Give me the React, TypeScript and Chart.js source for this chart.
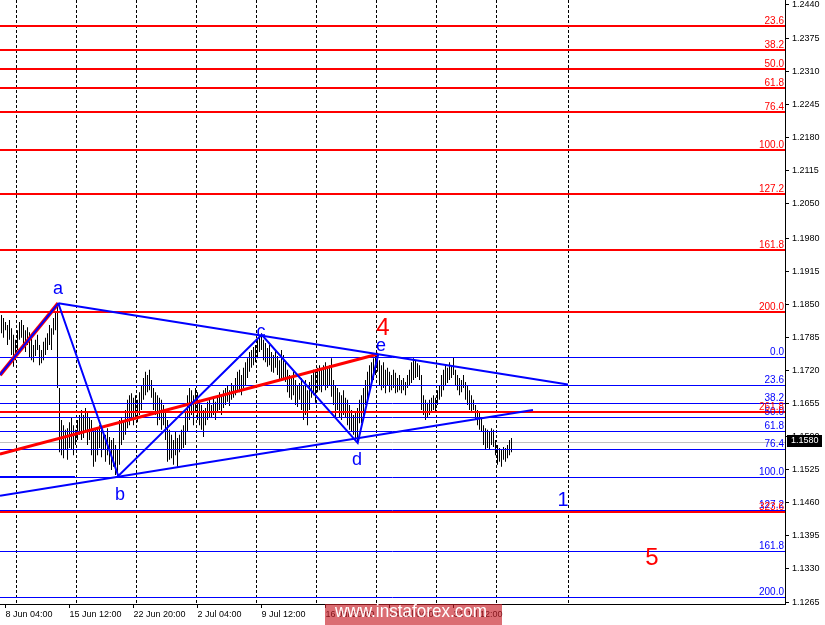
import React, { useEffect, useRef } from 'react';
import { Chart, registerables } from 'chart.js';

Chart.register(...registerables);

// ---- Data (EURUSD H4 bars) ----
const FIRST_BAR_INDEX = -2; // bar index 0 = 8 Jun 04:00

const barHighs = [
  1.1830, 1.1824, 1.1816, 1.1810, 1.1820,
  1.1804, 1.1791, 1.1781, 1.1800, 1.1816,
  1.1820, 1.1810, 1.1800, 1.1806, 1.1796,
  1.1785, 1.1771, 1.1781, 1.1791, 1.1771,
  1.1761, 1.1777, 1.1785, 1.1794, 1.1810,
  1.1804, 1.1824, 1.1836, 1.1853, 1.1686,
  1.1623, 1.1613, 1.1604, 1.1607, 1.1619,
  1.1627, 1.1613, 1.1604, 1.1623, 1.1633,
  1.1643, 1.1633, 1.1647, 1.1639, 1.1627,
  1.1623, 1.1607, 1.1604, 1.1607, 1.1613,
  1.1604, 1.1600, 1.1594, 1.1607, 1.1590,
  1.1584, 1.1588, 1.1574, 1.1564, 1.1623,
  1.1627, 1.1623, 1.1643, 1.1663, 1.1672,
  1.1676, 1.1667, 1.1672, 1.1663, 1.1678,
  1.1692, 1.1706, 1.1718, 1.1712, 1.1722,
  1.1702, 1.1686, 1.1678, 1.1672, 1.1667,
  1.1663, 1.1653, 1.1643, 1.1623, 1.1604,
  1.1594, 1.1584, 1.1600, 1.1588, 1.1594,
  1.1604, 1.1613, 1.1643, 1.1672, 1.1686,
  1.1682, 1.1672, 1.1686, 1.1678, 1.1663,
  1.1653, 1.1643, 1.1647, 1.1659, 1.1663,
  1.1653, 1.1667, 1.1659, 1.1672, 1.1678,
  1.1672, 1.1682, 1.1686, 1.1692, 1.1682,
  1.1696, 1.1692, 1.1706, 1.1718, 1.1722,
  1.1712, 1.1726, 1.1737, 1.1745, 1.1757,
  1.1761, 1.1767, 1.1771, 1.1781, 1.1785,
  1.1794, 1.1781, 1.1775, 1.1765, 1.1771,
  1.1757, 1.1751, 1.1761, 1.1749, 1.1741,
  1.1761, 1.1751, 1.1737, 1.1722, 1.1712,
  1.1706, 1.1718, 1.1702, 1.1692, 1.1696,
  1.1706, 1.1692, 1.1702, 1.1682, 1.1698,
  1.1712, 1.1722, 1.1718, 1.1726, 1.1731,
  1.1722, 1.1731, 1.1737, 1.1726, 1.1731,
  1.1745, 1.1702, 1.1692, 1.1686, 1.1678,
  1.1672, 1.1682, 1.1667, 1.1663, 1.1653,
  1.1643, 1.1633, 1.1639, 1.1647, 1.1663,
  1.1672, 1.1686, 1.1702, 1.1718, 1.1731,
  1.1737, 1.1745, 1.1749, 1.1753, 1.1741,
  1.1731, 1.1737, 1.1722, 1.1726, 1.1718,
  1.1712, 1.1722, 1.1716, 1.1706, 1.1712,
  1.1702, 1.1706, 1.1698, 1.1712, 1.1722,
  1.1737, 1.1745, 1.1741, 1.1735, 1.1731,
  1.1712, 1.1672, 1.1663, 1.1657, 1.1663,
  1.1667, 1.1672, 1.1667, 1.1682, 1.1692,
  1.1712, 1.1722, 1.1731, 1.1726, 1.1737,
  1.1731, 1.1747, 1.1722, 1.1712, 1.1706,
  1.1702, 1.1712, 1.1698, 1.1692, 1.1682,
  1.1672, 1.1663, 1.1653, 1.1643, 1.1639,
  1.1627, 1.1613, 1.1607, 1.1604, 1.1600,
  1.1607, 1.1604, 1.1584, 1.1574, 1.1568,
  1.1564, 1.1570, 1.1568, 1.1574, 1.1584,
  1.1588,
];

const barLows = [
  1.1794, 1.1785, 1.1800, 1.1771, 1.1781,
  1.1751, 1.1728, 1.1741, 1.1761, 1.1781,
  1.1785, 1.1767, 1.1757, 1.1771, 1.1747,
  1.1741, 1.1737, 1.1749, 1.1761, 1.1731,
  1.1735, 1.1741, 1.1751, 1.1761, 1.1771,
  1.1761, 1.1791, 1.1800, 1.1686, 1.1560,
  1.1554, 1.1548, 1.1564, 1.1545, 1.1568,
  1.1564, 1.1554, 1.1574, 1.1584, 1.1594,
  1.1584, 1.1588, 1.1600, 1.1574, 1.1584,
  1.1554, 1.1531, 1.1541, 1.1554, 1.1568,
  1.1550, 1.1564, 1.1541, 1.1554, 1.1535,
  1.1525, 1.1531, 1.1515, 1.1511, 1.1535,
  1.1574, 1.1584, 1.1594, 1.1607, 1.1613,
  1.1623, 1.1613, 1.1627, 1.1619, 1.1633,
  1.1643, 1.1663, 1.1672, 1.1678, 1.1682,
  1.1667, 1.1643, 1.1633, 1.1613, 1.1623,
  1.1604, 1.1613, 1.1584, 1.1541, 1.1545,
  1.1548, 1.1535, 1.1554, 1.1531, 1.1560,
  1.1564, 1.1568, 1.1574, 1.1600, 1.1623,
  1.1633, 1.1613, 1.1639, 1.1623, 1.1613,
  1.1604, 1.1590, 1.1613, 1.1623, 1.1627,
  1.1627, 1.1633, 1.1623, 1.1639, 1.1643,
  1.1633, 1.1647, 1.1653, 1.1659, 1.1651,
  1.1663, 1.1667, 1.1672, 1.1682, 1.1678,
  1.1672, 1.1686, 1.1692, 1.1706, 1.1718,
  1.1726, 1.1731, 1.1737, 1.1745, 1.1757,
  1.1761, 1.1741, 1.1737, 1.1728, 1.1731,
  1.1718, 1.1716, 1.1726, 1.1712, 1.1702,
  1.1706, 1.1702, 1.1698, 1.1678, 1.1667,
  1.1663, 1.1672, 1.1653, 1.1649, 1.1663,
  1.1643, 1.1623, 1.1633, 1.1613, 1.1643,
  1.1667, 1.1672, 1.1657, 1.1678, 1.1682,
  1.1678, 1.1692, 1.1682, 1.1686, 1.1690,
  1.1669, 1.1653, 1.1629, 1.1643, 1.1627,
  1.1623, 1.1633, 1.1627, 1.1613, 1.1604,
  1.1600, 1.1594, 1.1584, 1.1578, 1.1617,
  1.1617, 1.1633, 1.1653, 1.1663, 1.1682,
  1.1692, 1.1702, 1.1712, 1.1718, 1.1692,
  1.1682, 1.1686, 1.1676, 1.1692, 1.1678,
  1.1682, 1.1686, 1.1676, 1.1678, 1.1682,
  1.1676, 1.1682, 1.1672, 1.1686, 1.1692,
  1.1696, 1.1702, 1.1706, 1.1708, 1.1702,
  1.1643, 1.1633, 1.1623, 1.1627, 1.1633,
  1.1637, 1.1643, 1.1639, 1.1653, 1.1663,
  1.1669, 1.1682, 1.1692, 1.1696, 1.1702,
  1.1706, 1.1712, 1.1692, 1.1682, 1.1672,
  1.1678, 1.1686, 1.1663, 1.1653, 1.1643,
  1.1637, 1.1643, 1.1623, 1.1613, 1.1604,
  1.1600, 1.1574, 1.1564, 1.1568, 1.1564,
  1.1574, 1.1570, 1.1554, 1.1535, 1.1541,
  1.1531, 1.1545, 1.1541, 1.1548, 1.1554,
  1.1560,
];

const timeTickIndices = [0, 32, 64, 96, 128, 160, 192, 224];
const timeTickLabels = [
  '8 Jun 04:00', '15 Jun 12:00', '22 Jun 20:00', '2 Jul 04:00',
  '9 Jul 12:00', '16 Jul 20:00', '24 Jul 04:00', '31 Jul 12:00',
];
const priceTicks = [
  1.2440, 1.2375, 1.2310, 1.2245, 1.2180, 1.2115, 1.2050, 1.1980, 1.1915, 1.1850,
  1.1785, 1.1720, 1.1655, 1.1590, 1.1525, 1.1460, 1.1395, 1.1330, 1.1265,
];
const weekSeparatorIndices = [5, 35, 65, 95, 125, 155, 185, 215, 245, 281];
const currentPrice = 1.1580;

// Fibonacci objects: [0% price, 100% price]
const redFibRange = [1.2474, 1.2155];
const redFibLevels = [23.6, 38.2, 50.0, 61.8, 76.4, 100.0, 127.2, 161.8, 200.0, 261.8, 323.6];
const blueFibRange = [1.1747, 1.1511];
const blueFibLevels = [0.0, 23.6, 38.2, 50.0, 61.8, 76.4, 100.0, 127.2, 161.8, 200.0];

// Wave path a-b-c-d-e
const wavePathIndex = [26.4, 56.4, 128.1, 176.1, 186.4];
const wavePathPrice = [1.1853, 1.1513, 1.1791, 1.1578, 1.1753];

// Trend lines: [startIndex, startPrice, endIndex, endPrice]
const upperTrendLine = [26.4, 1.1853, 281.25, 1.1693];
const lowerTrendLine = [-2.75, 1.1474, 263.75, 1.1643];
const redTrendLine = [-2.75, 1.1556, 186.4, 1.1753];
const leftWaveLine = [-2.75, 1.1712, 26.4, 1.1853];
const leftLevelLine = [-2.75, 1.1511, 34.75, 1.1511];

// Wave labels
const waveLabelText = ['a', 'b', 'c', 'd', 'e', '4', '1', '5'];
const waveLabelIndex = [26.25, 57.25, 127.75, 175.75, 187.75, 188.75, 278.75, 323.25];
const waveLabelPrice = [1.1871, 1.1466, 1.1787, 1.1535, 1.1759, 1.1791, 1.1454, 1.1338];

// ---- View ----
const X_MIN = -2.75;
const X_MAX = 389.75;
const Y_MIN = 1.126111;
const Y_MAX = 1.244984;

const FONT = '"Liberation Sans", Arial, sans-serif';
const BLUE = '#0000ff';
const RED = '#ff0000';

const overlayPlugin = {
  id: 'mt4Overlay',
  beforeDatasetsDraw(chart: any) {
    const { ctx, chartArea: a, scales } = chart;
    const xs = scales.x;
    const ys = scales.y;
    ctx.save();
    ctx.beginPath();
    ctx.rect(a.left, a.top, a.right - a.left, a.bottom - a.top);
    ctx.clip();
    ctx.strokeStyle = '#000';
    ctx.lineWidth = 1;
    ctx.setLineDash([3, 2]);
    for (const i of weekSeparatorIndices) {
      const px = Math.round(xs.getPixelForValue(i)) + 0.5;
      ctx.beginPath();
      ctx.moveTo(px, a.top);
      ctx.lineTo(px, a.bottom);
      ctx.stroke();
    }
    ctx.setLineDash([]);
    const gy = Math.round(ys.getPixelForValue(currentPrice)) + 0.5;
    ctx.strokeStyle = '#c0c0c0';
    ctx.beginPath();
    ctx.moveTo(a.left, gy);
    ctx.lineTo(a.right, gy);
    ctx.stroke();
    ctx.restore();
  },
  afterDatasetsDraw(chart: any) {
    const { ctx, chartArea: a, scales } = chart;
    const xs = scales.x;
    const ys = scales.y;
    const X = (v: number) => xs.getPixelForValue(v);
    const Y = (v: number) => ys.getPixelForValue(v);
    ctx.save();
    ctx.beginPath();
    ctx.rect(a.left, a.top, a.right - a.left, a.bottom - a.top);
    ctx.clip();

    const [b0, b1] = blueFibRange;
    for (const lv of blueFibLevels) {
      const p = b0 - (lv / 100) * (b0 - b1);
      const y = Math.round(Y(p)) + 0.5;
      ctx.strokeStyle = BLUE;
      ctx.lineWidth = 1;
      ctx.beginPath();
      ctx.moveTo(a.left, y);
      ctx.lineTo(a.right, y);
      ctx.stroke();
    }
    const [r0, r1] = redFibRange;
    for (const lv of redFibLevels) {
      const p = r0 - (lv / 100) * (r0 - r1);
      const y = Math.round(Y(p));
      ctx.strokeStyle = RED;
      ctx.lineWidth = 2;
      ctx.beginPath();
      ctx.moveTo(a.left, y);
      ctx.lineTo(a.right, y);
      ctx.stroke();
    }

    ctx.font = `10px ${FONT}`;
    ctx.textAlign = 'right';
    ctx.textBaseline = 'alphabetic';
    for (const lv of blueFibLevels) {
      const p = b0 - (lv / 100) * (b0 - b1);
      const y = Math.round(Y(p));
      ctx.fillStyle = BLUE;
      ctx.fillText(lv.toFixed(1), a.right - 1, y - 2);
    }
    for (const lv of redFibLevels) {
      const p = r0 - (lv / 100) * (r0 - r1);
      const y = Math.round(Y(p));
      ctx.fillStyle = RED;
      ctx.fillText(lv.toFixed(1), a.right - 1, y - 2);
    }

    const seg = (l: number[], color: string, w: number) => {
      ctx.strokeStyle = color;
      ctx.lineWidth = w;
      ctx.beginPath();
      ctx.moveTo(X(l[0]), Y(l[1]));
      ctx.lineTo(X(l[2]), Y(l[3]));
      ctx.stroke();
    };
    ctx.lineCap = 'butt';
    seg(redTrendLine, RED, 3);
    seg(leftWaveLine, RED, 4);
    seg(leftWaveLine, BLUE, 2);
    seg(leftLevelLine, BLUE, 2);
    seg(upperTrendLine, BLUE, 2);
    seg(lowerTrendLine, BLUE, 2);

    ctx.strokeStyle = BLUE;
    ctx.lineWidth = 2;
    ctx.lineJoin = 'miter';
    ctx.beginPath();
    wavePathIndex.forEach((iv, k) => {
      const px = X(iv);
      const py = Y(wavePathPrice[k]);
      if (k === 0) ctx.moveTo(px, py);
      else ctx.lineTo(px, py);
    });
    ctx.stroke();

    ctx.textAlign = 'center';
    waveLabelText.forEach((t, k) => {
      const isDigit = /[0-9]/.test(t);
      const size = t === '1' ? 20 : isDigit ? 24 : 18;
      ctx.font = `${size}px ${FONT}`;
      ctx.fillStyle = t === '4' || t === '5' ? RED : BLUE;
      ctx.fillText(t, X(waveLabelIndex[k]), Y(waveLabelPrice[k]));
    });
    ctx.restore();
  },
  afterDraw(chart: any) {
    const { ctx, chartArea: a, scales } = chart;
    const ys = scales.y;
    ctx.save();
    const py = Math.round(ys.getPixelForValue(currentPrice));
    ctx.fillStyle = '#000';
    ctx.fillRect(a.right + 2, py - 7, 35, 12);
    ctx.fillStyle = '#fff';
    ctx.font = `9px ${FONT}`;
    ctx.textAlign = 'left';
    ctx.textBaseline = 'middle';
    ctx.fillText(currentPrice.toFixed(4), a.right + 6, py - 1);

    ctx.fillStyle = 'rgba(200, 30, 40, 0.65)';
    ctx.fillRect(325, 604, 177, 21);
    ctx.fillStyle = '#ffffff';
    ctx.font = `19px ${FONT}`;
    ctx.textAlign = 'left';
    ctx.textBaseline = 'alphabetic';
    ctx.translate(335, 617);
    ctx.scale(0.9, 1);
    ctx.fillText('www.instaforex.com', 0, 0);
    ctx.restore();
  },
};

export default function App() {
  const ref = useRef<HTMLCanvasElement>(null);

  useEffect(() => {
    const canvas = ref.current;
    if (!canvas) return;
    const bars = barHighs.map((h, k) => ({ x: FIRST_BAR_INDEX + k, y: [barLows[k], h] }));
    const chart = new Chart(canvas, {
      type: 'bar',
      data: {
        datasets: [
          {
            label: 'EURUSD H4',
            data: bars as any,
            backgroundColor: '#000',
            borderWidth: 0,
            barThickness: 1,
            inflateAmount: 0,
          } as any,
        ],
      },
      options: {
        responsive: false,
        animation: false,
        devicePixelRatio: 1,
        events: [],
        layout: { padding: 0 },
        plugins: { legend: { display: false }, tooltip: { enabled: false } },
        scales: {
          x: {
            type: 'linear',
            position: 'bottom',
            min: X_MIN,
            max: X_MAX,
            offset: false,
            afterBuildTicks: (s: any) => {
              s.ticks = timeTickIndices.map((v) => ({ value: v }));
            },
            afterFit: (s: any) => {
              s.height = 21;
              s.paddingLeft = 0;
              s.paddingRight = 0;
            },
            ticks: {
              autoSkip: false,
              maxRotation: 0,
              minRotation: 0,
              align: 'start',
              padding: 1,
              color: '#000',
              font: { family: FONT, size: 9 },
              callback: (v: any) => {
                const k = timeTickIndices.indexOf(Number(v));
                return k >= 0 ? timeTickLabels[k] : '';
              },
            },
            grid: { drawOnChartArea: false, drawTicks: true, tickLength: 4, color: '#000', offset: false },
            border: { display: true, color: '#000', width: 1 },
          } as any,
          y: {
            type: 'linear',
            position: 'right',
            min: Y_MIN,
            max: Y_MAX,
            afterBuildTicks: (s: any) => {
              s.ticks = priceTicks.map((v) => ({ value: v }));
            },
            afterFit: (s: any) => {
              s.width = 40;
              s.paddingTop = 0;
              s.paddingBottom = 0;
            },
            ticks: {
              autoSkip: false,
              padding: 3,
              color: '#000',
              font: { family: FONT, size: 9 },
              callback: (v: any) => Number(v).toFixed(4),
            },
            grid: { drawOnChartArea: false, drawTicks: true, tickLength: 4, color: '#000' },
            border: { display: true, color: '#000', width: 1 },
          } as any,
        },
      },
      plugins: [overlayPlugin],
    });
    return () => chart.destroy();
  }, []);

  return (
    <div style={{ position: 'fixed', left: 0, top: 0, width: 825, height: 625, background: '#fff' }}>
      <canvas ref={ref} width={825} height={625} style={{ display: 'block', width: 825, height: 625 }} />
    </div>
  );
}
